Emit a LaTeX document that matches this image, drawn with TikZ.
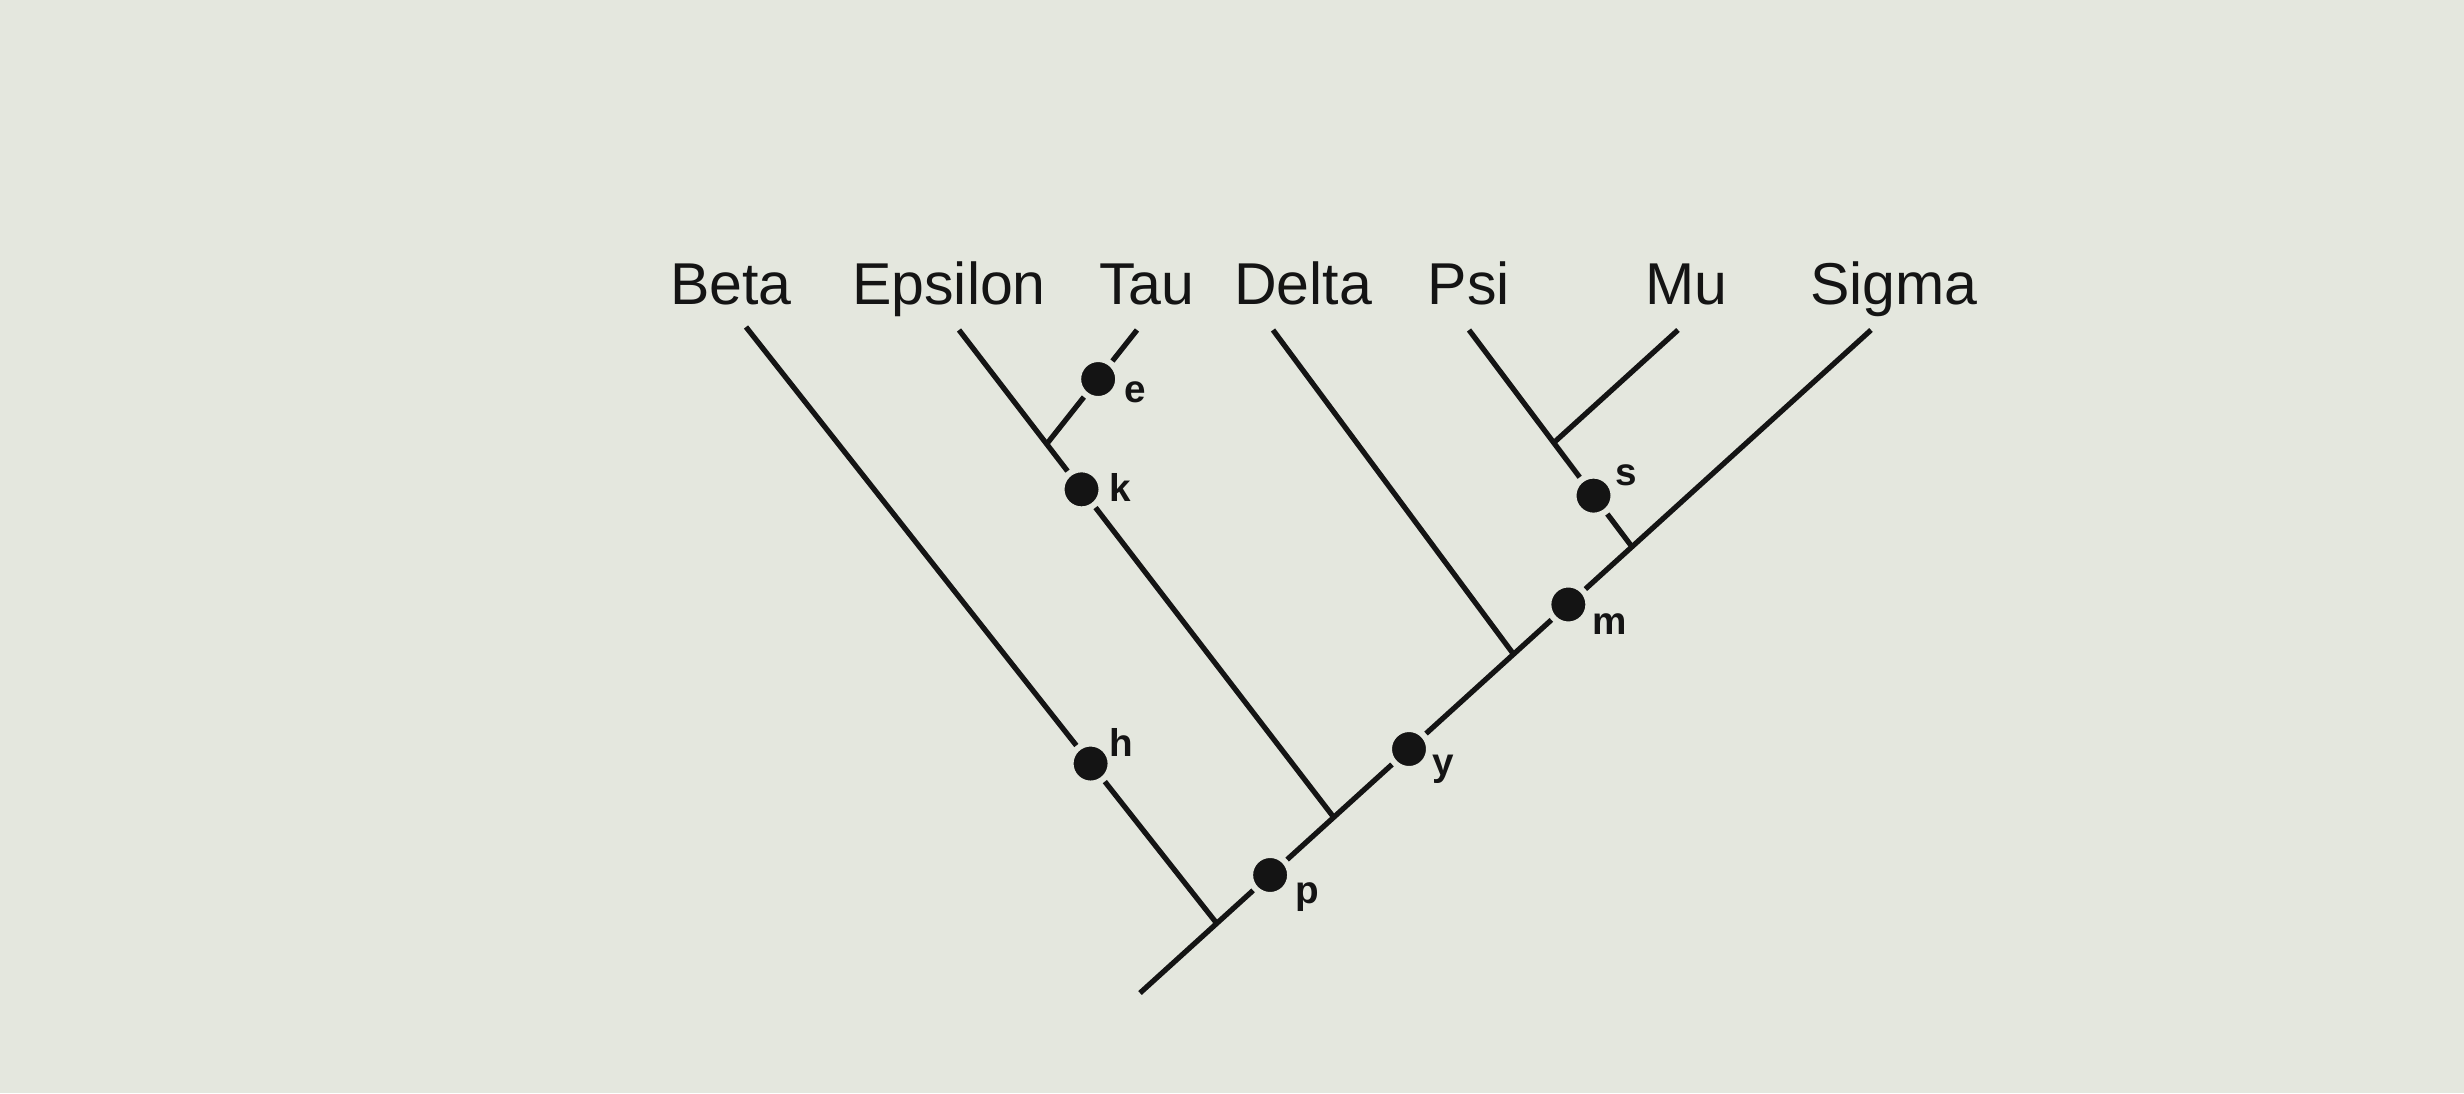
\documentclass[tikz,border=0pt]{standalone}
\usepackage{fontspec}
\setmainfont{Liberation Sans}
\usepackage{xcolor}
\definecolor{screenGray}{RGB}{228, 231, 222}
\definecolor{inkBlack}{RGB}{20, 20, 20}
\usepackage{tikz}
\usetikzlibrary{calc}

\begin{document}
\begin{tikzpicture}[
  branch/.style={draw=inkBlack, line width=1.5pt},
  taxon/.style={anchor=base, inner sep=0pt, font=\fontsize{16.8}{20}\selectfont, text=inkBlack},
  trait/.style={circle, fill=inkBlack, draw=screenGray, line width=1.7pt,
                inner sep=0pt, minimum size=0.40cm},
  traitlbl/.style={inner sep=0pt, font=\fontsize{11}{13}\selectfont\bfseries, text=inkBlack}]

  % ── Background ────────────────────────────────────────────────────
  \fill[screenGray] (0, 0) rectangle (24.64, 10.93);
  \useasboundingbox (0, 0) rectangle (24.64, 10.93);

  % ── Taxa ──────────────────────────────────────────────────────────
  \node[taxon] (beta)    at (7.31,  7.88) {Beta};
  \node[taxon] (epsilon) at (9.49,  7.88) {Epsilon};
  \node[taxon] (tau)     at (11.47, 7.88) {Tau};
  \node[taxon] (delta)   at (13.03, 7.88) {Delta};
  \node[taxon] (psi)     at (14.69, 7.88) {Psi};
  \node[taxon] (mu)      at (16.86, 7.88) {Mu};
  \node[taxon] (sigma)   at (18.94, 7.88) {Sigma};

  % ── Branch tips ───────────────────────────────────────────────────
  \coordinate (root)     at (11.40, 1.00);
  \coordinate (tipSigma) at (18.71, 7.63);
  \coordinate (tipBeta)  at (7.46,  7.66);
  \coordinate (tipEps)   at (9.59,  7.63);
  \coordinate (tipTau)   at (11.37, 7.63);
  \coordinate (tipDelta) at (12.73, 7.63);
  \coordinate (tipPsi)   at (14.69, 7.63);
  \coordinate (tipMu)    at (16.78, 7.63);

  % ── Nodes on the spine ────────────────────────────────────────────
  \coordinate (jBeta)  at ($(root)!0.105!(tipSigma)$);
  \coordinate (jEps)   at ($(root)!0.265!(tipSigma)$);
  \coordinate (jDelta) at ($(root)!0.511!(tipSigma)$);
  \coordinate (jPsi)   at ($(root)!0.673!(tipSigma)$);
  \coordinate (jTau)   at ($(tipEps)!0.234!(jEps)$);
  \coordinate (jMu)    at ($(tipPsi)!0.52!(jPsi)$);

  % ── Traits ────────────────────────────────────────────────────────
  \node[trait] (p) at ($(root)!0.178!(tipSigma)$) {};
  \node[trait] (y) at ($(root)!0.368!(tipSigma)$) {};
  \node[trait] (m) at ($(root)!0.586!(tipSigma)$) {};
  \node[trait] (h) at ($(tipBeta)!0.732!(jBeta)$) {};
  \node[trait] (k) at ($(tipEps)!0.327!(jEps)$) {};
  \node[trait] (e) at ($(tipTau)!0.43!(jTau)$) {};
  \node[trait] (s) at ($(tipPsi)!0.764!(jPsi)$) {};

  \node[traitlbl] (pLbl) at ($(p)+(0.37,-0.22)$) {p};
  \node[traitlbl] (yLbl) at ($(y)+(0.34,-0.20)$) {y};
  \node[traitlbl] (mLbl) at ($(m)+(0.41,-0.20)$) {m};
  \node[traitlbl] (hLbl) at ($(h)+(0.31,0.21)$) {h};
  \node[traitlbl] (kLbl) at ($(k)+(0.39,0.02)$) {k};
  \node[traitlbl] (eLbl) at ($(e)+(0.37,-0.13)$) {e};
  \node[traitlbl] (sLbl) at ($(s)+(0.33,0.20)$) {s};

  % ── Branches ──────────────────────────────────────────────────────
  \draw[branch] (root) -- (p) -- (y) -- (m) -- (tipSigma);
  \draw[branch] (tipBeta) -- (h) -- (jBeta);
  \draw[branch] (tipEps) -- (k) -- (jEps);
  \draw[branch] (tipTau) -- (e) -- (jTau);
  \draw[branch] (tipDelta) -- (jDelta);
  \draw[branch] (tipPsi) -- (s) -- (jPsi);
  \draw[branch] (tipMu) -- (jMu);

\end{tikzpicture}
\end{document}
